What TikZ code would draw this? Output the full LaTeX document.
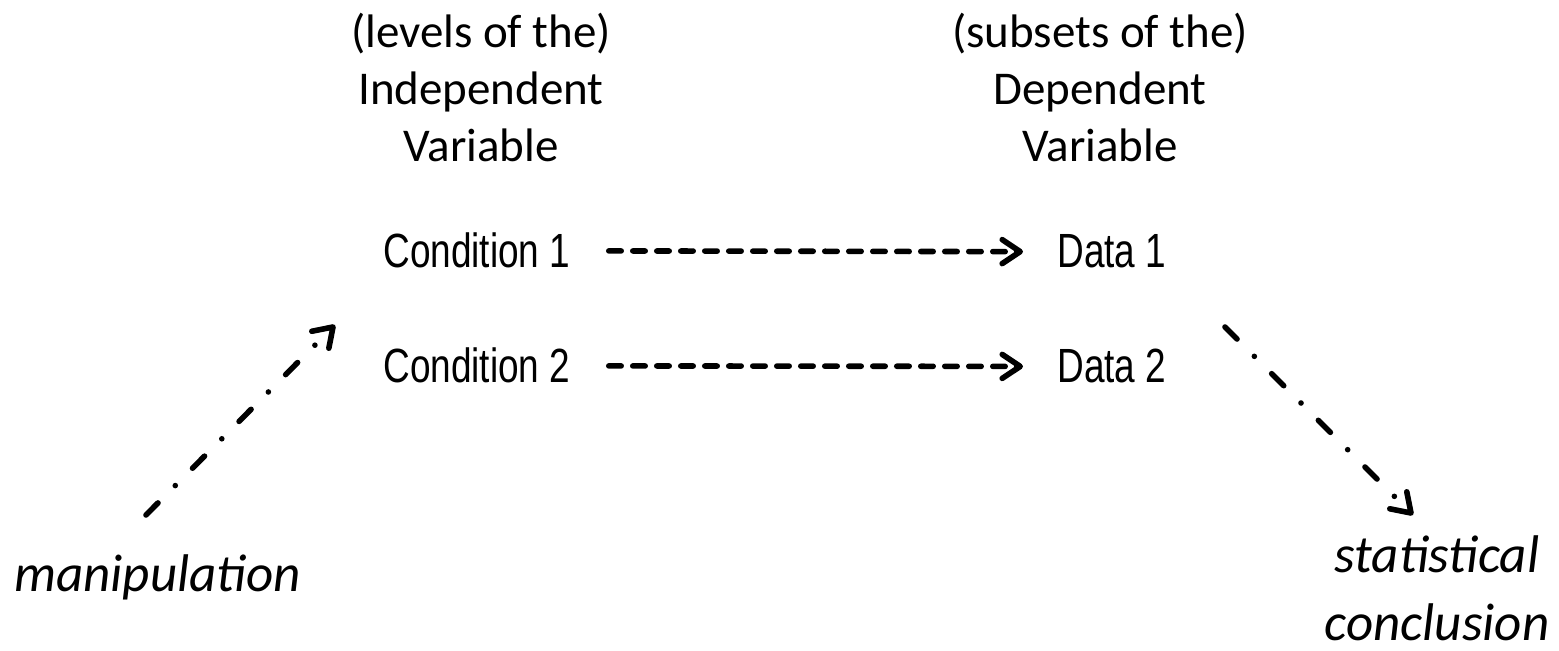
\documentclass[tikz,border=0pt]{standalone}
\usepackage{fontspec}
\setmainfont{Carlito}
\newfontfamily\arialn[FakeStretch=0.77]{Liberation Sans}
\usetikzlibrary{arrows.meta}
\begin{document}
\begin{tikzpicture}[x=0.5pt,y=-0.5pt,
  hdr/.style={align=center,inner sep=0pt,font=\fontsize{23.5pt}{28.5pt}\selectfont},
  cond/.style={inner sep=0pt,font=\arialn\fontsize{24pt}{28pt}\selectfont},
  note/.style={inner sep=0pt,align=center,font=\itshape\fontsize{26.5pt}{34pt}\selectfont},
  tipstyle/.style={-{Straight Barb[length=9pt,width=12pt,round]}},
  flow/.style={line width=2.8pt,line cap=round,dash pattern=on 6.2pt off 5.8pt,tipstyle},
  infer/.style={line width=2.8pt,line cap=round,dash pattern=on 8.5pt off 12.25pt on 0pt off 12.25pt,tipstyle}]
\useasboundingbox (0,0) rectangle (1559,651);
\node[hdr,anchor=north] (iv) at (481,13) {(levels of the)\\Independent\\Variable};
\node[hdr,anchor=north] (dv) at (1100,13) {(subsets of the)\\Dependent\\Variable};
\node[cond,anchor=base west] (c1) at (383,268) {Condition 1};
\node[cond,anchor=base west] (c2) at (383,383) {Condition 2};
\node[cond,anchor=base west] (d1) at (1057,268) {Data 1};
\node[cond,anchor=base west] (d2) at (1057,383) {Data 2};
\node[note,anchor=base west] (manip) at (14,592) {manipulation};
\node[note,anchor=south] (concl) at (1437,641) {statistical\\conclusion};
\draw[flow,shorten <=19pt,shorten >=17pt] (c1.east) -- (d1.west);
\draw[flow,shorten <=19pt,shorten >=17pt] (c2.east) -- (d2.west);
\coordinate (m0) at (146,515);
\coordinate (m1) at (335,325);
\coordinate (s0) at (1225,327);
\coordinate (s1) at (1413,515);
\draw[infer] (m0) -- (m1);
\draw[infer] (s0) -- (s1);
\end{tikzpicture}
\end{document}
